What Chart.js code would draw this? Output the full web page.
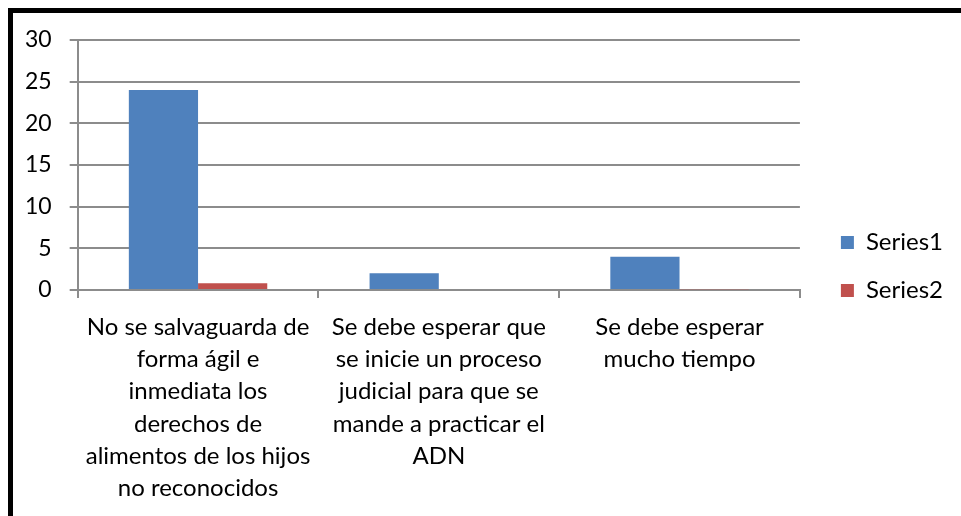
<!DOCTYPE html>
<html>
<head>
<meta charset="utf-8">
<script src="https://cdn.jsdelivr.net/npm/chart.js@4.4.1/dist/chart.umd.min.js"></script>
<style>
  html, body { margin: 0; padding: 0; background: #fff; }
  #wrap { position: relative; width: 961px; height: 516px; overflow: hidden; }
  #frame {
    position: absolute; left: 8px; top: 8px; width: 960px; height: 520px;
    border-top: 5px solid #000; border-left: 5px solid #000;
  }
  canvas { position: absolute; left: 0; top: 0; }
</style>
</head>
<body>
<div id="wrap">
  <div id="frame"></div>
  <canvas id="chart" width="961" height="516"></canvas>
</div>
<script>
const categories = [
  ["No se salvaguarda de", "forma ágil e", "inmediata los", "derechos de", "alimentos de los hijos", "no reconocidos"],
  ["Se debe esperar que", "se inicie un proceso", "judicial para que se", "mande a practicar el", "ADN"],
  ["Se debe esperar", "mucho tiempo"]
]
const series1 = [24, 2, 4]
const series2 = [0.8, 0, 0.1]
const yTicks = [0, 5, 10, 15, 20, 25, 30]

const family = 'Lato, "Open Sans", sans-serif'
const gridColor = '#8c8c8c'

// the x labels run into the bottom padding, so let them draw down to the canvas edge
const labelRoom = {
  id: 'labelRoom',
  afterLayout(chart) {
    chart.scales.x.bottom = chart.height
  }
}

const ctx = document.getElementById('chart').getContext('2d')
new Chart(ctx, {
  type: 'bar',
  data: {
    labels: categories,
    datasets: [
      { label: 'Series1', data: series1, backgroundColor: '#4F81BD' },
      { label: 'Series2', data: series2, backgroundColor: '#C0504D' }
    ]
  },
  plugins: [labelRoom],
  options: {
    responsive: false,
    animation: false,
    categoryPercentage: 0.575,
    barPercentage: 1,
    layout: { padding: { top: 40, left: 7, right: 8, bottom: 23 } },
    plugins: {
      tooltip: { enabled: false },
      legend: {
        position: 'right',
        labels: {
          color: '#000',
          font: { family, size: 24 },
          boxWidth: 13,
          boxHeight: 13,
          padding: 24
        }
      }
    },
    scales: {
      x: {
        grid: { display: true, drawOnChartArea: false, color: gridColor, lineWidth: 2, tickLength: 8 },
        border: { color: gridColor, width: 2 },
        ticks: {
          color: '#000',
          font: { family, size: 24, lineHeight: 1.345 },
          maxRotation: 0,
          autoSkip: false,
          padding: 13
        },
        afterFit: (scale) => { scale.height = 203 }
      },
      y: {
        min: 0,
        max: 30,
        afterBuildTicks: (axis) => { axis.ticks = yTicks.map(v => ({ value: v })) },
        grid: { color: gridColor, lineWidth: 2, tickLength: 8 },
        border: { color: gridColor, width: 2 },
        ticks: { color: '#000', font: { family, size: 23 }, padding: 18 }
      },
      // empty spacer between plot and legend
      gap: {
        position: 'right',
        display: true,
        grid: { display: false },
        border: { display: false },
        ticks: { display: false },
        afterFit: (scale) => { scale.width = 17 }
      }
    }
  }
})
</script>
</body>
</html>
